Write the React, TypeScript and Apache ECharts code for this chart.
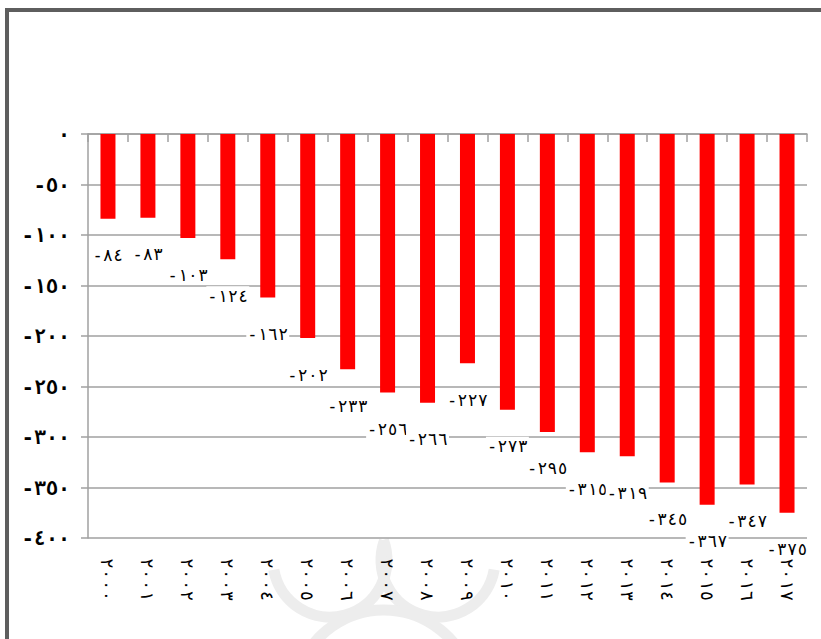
import React, { useEffect, useRef } from "react";
import * as echarts from "echarts";

const yearLabels = [
  "٢٠٠٠", "٢٠٠١", "٢٠٠٢", "٢٠٠٣", "٢٠٠٤", "٢٠٠٥", "٢٠٠٦", "٢٠٠٧", "٢٠٠٨",
  "٢٠٠٩", "٢٠١٠", "٢٠١١", "٢٠١٢", "٢٠١٣", "٢٠١٤", "٢٠١٥", "٢٠١٦", "٢٠١٧",
];
const values = [
  -84, -83, -103, -124, -162, -202, -233, -256, -266,
  -227, -273, -295, -315, -319, -345, -367, -347, -375,
];
const halfTicks = Array.from({ length: yearLabels.length * 2 }, () => "");

const AR_DIGITS = "٠١٢٣٤٥٦٧٨٩";
const toArabic = (n: number) =>
  String(n).replace(/\d/g, (d) => AR_DIGITS[Number(d)]);

const FONT = "'DejaVu Sans Mono', 'DejaVu Sans', monospace";
const WM = "#ededed";
const GRID = "#a0a0a0";

export default function App() {
  const ref = useRef<HTMLDivElement>(null);
  useEffect(() => {
    if (!ref.current) return;
    const chart = echarts.init(ref.current, null, { renderer: "svg" });
    chart.setOption({
      animation: false,
      backgroundColor: "#ffffff",
      grid: { left: 88, top: 134, width: 719, height: 404, containLabel: false },
      graphic: [
        {
          type: "rect",
          shape: { x: 7, y: 10, width: 900, height: 700 },
          style: { fill: "none", stroke: "#5e5e5e", lineWidth: 4 },
          silent: true,
          z: 100,
        },
        {
          type: "arc",
          shape: { cx: 330, cy: 560, r: 57, startAngle: -0.36, endAngle: 2.97, clockwise: true },
          style: { stroke: WM, lineWidth: 11, fill: "none" },
          silent: true,
          z: -10,
        },
        {
          type: "arc",
          shape: { cx: 438, cy: 560, r: 57, startAngle: 0.17, endAngle: 3.49, clockwise: true },
          style: { stroke: WM, lineWidth: 11, fill: "none" },
          silent: true,
          z: -10,
        },
        {
          type: "arc",
          shape: { cx: 384, cy: 700, r: 90, startAngle: 3.5, endAngle: 5.9, clockwise: true },
          style: { stroke: WM, lineWidth: 11, fill: "none" },
          silent: true,
          z: -10,
        },
      ],
      xAxis: [
        {
          type: "category",
          data: yearLabels,
          position: "bottom",
          axisLine: { show: false, onZero: false },
          axisTick: { show: false },
          axisLabel: {
            rotate: -90,
            margin: 20,
            fontSize: 18,
            color: "#000",
            fontFamily: FONT,
            interval: 0,
          },
        },
        {
          type: "category",
          data: halfTicks,
          position: "top",
          axisLine: { show: true, lineStyle: { color: GRID, width: 1.5 } },
          axisTick: { show: true, inside: true, length: 8, interval: 0, lineStyle: { color: GRID, width: 1.5 } },
          axisLabel: { show: false },
        },
      ],
      yAxis: {
        type: "value",
        min: -400,
        max: 0,
        interval: 50,
        axisLine: { show: true, lineStyle: { color: GRID, width: 1.5 } },
        axisTick: { show: true, length: 7, lineStyle: { color: GRID, width: 1.5 } },
        splitLine: { show: true, lineStyle: { color: GRID, width: 1.5 } },
        axisLabel: {
          margin: 18,
          fontSize: 20,
          fontWeight: "bold",
          color: "#000",
          fontFamily: FONT,
          formatter: (v: number) => toArabic(v),
        },
      },
      series: [
        {
          type: "bar",
          data: values,
          xAxisIndex: 0,
          barWidth: 15,
          itemStyle: { color: "#ff0000" },
          label: {
            show: true,
            position: "bottom",
            distance: 27,
            fontSize: 17,
            color: "#000",
            fontFamily: FONT,
            backgroundColor: "#ffffff",
            padding: [1, 1],
            formatter: (p: any) => toArabic(p.value),
          },
        },
      ],
    });
    return () => chart.dispose();
  }, []);
  return (
    <div
      ref={ref}
      style={{ position: "absolute", left: 0, top: 0, width: 821, height: 639 }}
    />
  );
}
